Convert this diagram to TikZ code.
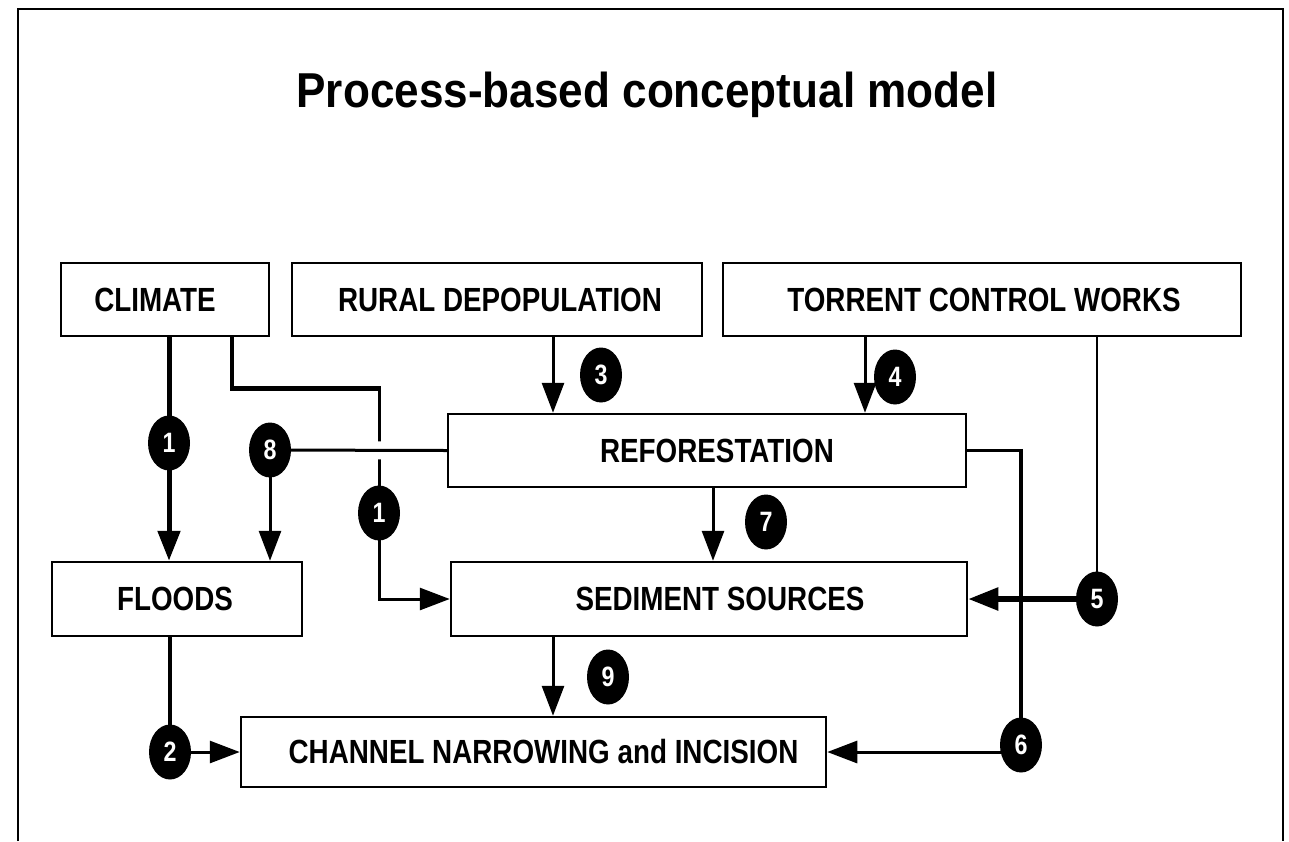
\documentclass[tikz,border=0pt]{standalone}
\usepackage{fontspec}
\usetikzlibrary{arrows.meta,shapes.geometric}
\newfontfamily\titlefam[FakeStretch=0.90]{Liberation Sans}
\newfontfamily\boxfam[FakeStretch=0.83]{Liberation Sans}
\tikzset{
  box/.style={draw, rectangle, line width=2.5, inner sep=0pt},
  lbl/.style={font=\boxfam\bfseries\fontsize{33.5pt}{36pt}\selectfont, inner sep=0pt},
  badge/.style={ellipse, fill=black, minimum width=42, minimum height=55, inner sep=0pt,
    text=white, font=\boxfam\bfseries\fontsize{28pt}{30pt}\selectfont},
  arr/.style={-{Triangle[length=30pt,width=22pt]}},
  thinw/.style={line width=3},
  thickw/.style={line width=5},
}
\begin{document}
\begin{tikzpicture}[x=1pt,y=-1pt]
\useasboundingbox (0,0) rectangle (1289,841);
\fill[white] (0,0) rectangle (1289,841);

% outer frame, open at the bottom
\draw[line width=2.8] (18,841) -- (18,9) -- (1283,9) -- (1283,841);

% title
\node[font=\titlefam\bfseries\fontsize{49pt}{54pt}\selectfont, anchor=base] (title) at (647,107) {Process-based conceptual model};

% boxes
\node[box, minimum width=208, minimum height=73, label={[lbl, xshift=-10pt]center:CLIMATE}] (climate) at (165,299.5) {};
\node[box, minimum width=410, minimum height=73, label={[lbl, xshift=3pt]center:RURAL DEPOPULATION}] (rural) at (497,299.5) {};
\node[box, minimum width=518, minimum height=73, label={[lbl, xshift=2pt]center:TORRENT CONTROL WORKS}] (torrent) at (982,299.5) {};
\node[box, minimum width=518, minimum height=73, label={[lbl, xshift=10pt]center:REFORESTATION}] (refor) at (707,450.5) {};
\node[box, minimum width=250, minimum height=74, label={[lbl, xshift=-2pt]center:FLOODS}] (floods) at (177,599) {};
\node[box, minimum width=516, minimum height=74, label={[lbl, xshift=11pt]center:SEDIMENT SOURCES}] (sed) at (709,599) {};
\node[box, minimum width=585, minimum height=70, label={[lbl, xshift=10pt]center:CHANNEL NARROWING and INCISION}] (chan) at (533.5,752) {};

% badge positions (drawn on top later)
\coordinate (p1a) at (169,443);
\coordinate (p1b) at (379,513);
\coordinate (p8) at (270,450);
\coordinate (p3) at (601,375);
\coordinate (p4) at (895,377);
\coordinate (p7) at (766,522);
\coordinate (p9) at (608,677);
\coordinate (p5) at (1097,599);
\coordinate (p6) at (1021,745);
\coordinate (p2) at (170,752);

% 1: climate -> floods
\draw[thickw, arr] (p1a |- climate.south) -- (p1a |- floods.north);

% 1: climate -> sediment sources
\draw[line width=3.5] (climate.south) ++(67,0) coordinate (c1s) -- ++(0,51) coordinate (c1k);
\draw[line width=5.5] ([xshift=-1.75pt]c1k) -- ([xshift=1.5pt]c1k -| p1b);
\draw[thinw, arr] (c1k -| p1b) |- (sed.west);

% 8: reforestation -> floods (hops over the climate line)
\draw[thinw, preaction={draw=white, line width=18, shorten <=40pt, shorten >=80pt}] (refor.west) -- (p8);
\draw[thinw, arr] (p8) -- (p8 |- floods.north);

% 3: rural depopulation -> reforestation
\draw[thinw, arr] (rural.south) ++(56,0) coordinate (c3s) -- (c3s |- refor.north);

% 4: torrent control works -> reforestation
\draw[thinw, arr] (torrent.south) ++(-117,0) coordinate (c4s) -- (c4s |- refor.north);

% 5: torrent control works -> sediment sources
\draw[line width=2.5] (p5 |- torrent.south) -- (p5);
\draw[line width=5.5, arr] (p5) -- (p5 -| sed.east);

% 6: reforestation -> channel
\draw[line width=3.5] (refor.east) -- (refor.east -| p6);
\draw[line width=4.5] ([yshift=1.75pt]refor.east -| p6) -- (p6);
\draw[thinw, arr] (chan.east -| p6) -- (chan.east);

% 7: reforestation -> sediment sources
\draw[thinw, arr] (refor.south) ++(6,0) coordinate (c7s) -- (c7s |- sed.north);

% 9: sediment sources -> channel
\draw[thinw, arr] (sed.south) ++(-156,0) coordinate (c9s) -- (c9s |- chan.north);

% 2: floods -> channel
\draw[line width=4.5] (p2 |- floods.south) -- (p2);
\draw[thinw, arr] (p2) -- (p2 -| chan.west);

% numbered badges
\node[badge] (b1a) at (p1a) {1};
\node[badge] (b1b) at (p1b) {1};
\node[badge] (b8) at (p8) {8};
\node[badge] (b3) at (p3) {3};
\node[badge] (b4) at (p4) {4};
\node[badge] (b7) at (p7) {7};
\node[badge] (b9) at (p9) {9};
\node[badge] (b5) at (p5) {5};
\node[badge] (b6) at (p6) {6};
\node[badge] (b2) at (p2) {2};
\end{tikzpicture}
\end{document}
